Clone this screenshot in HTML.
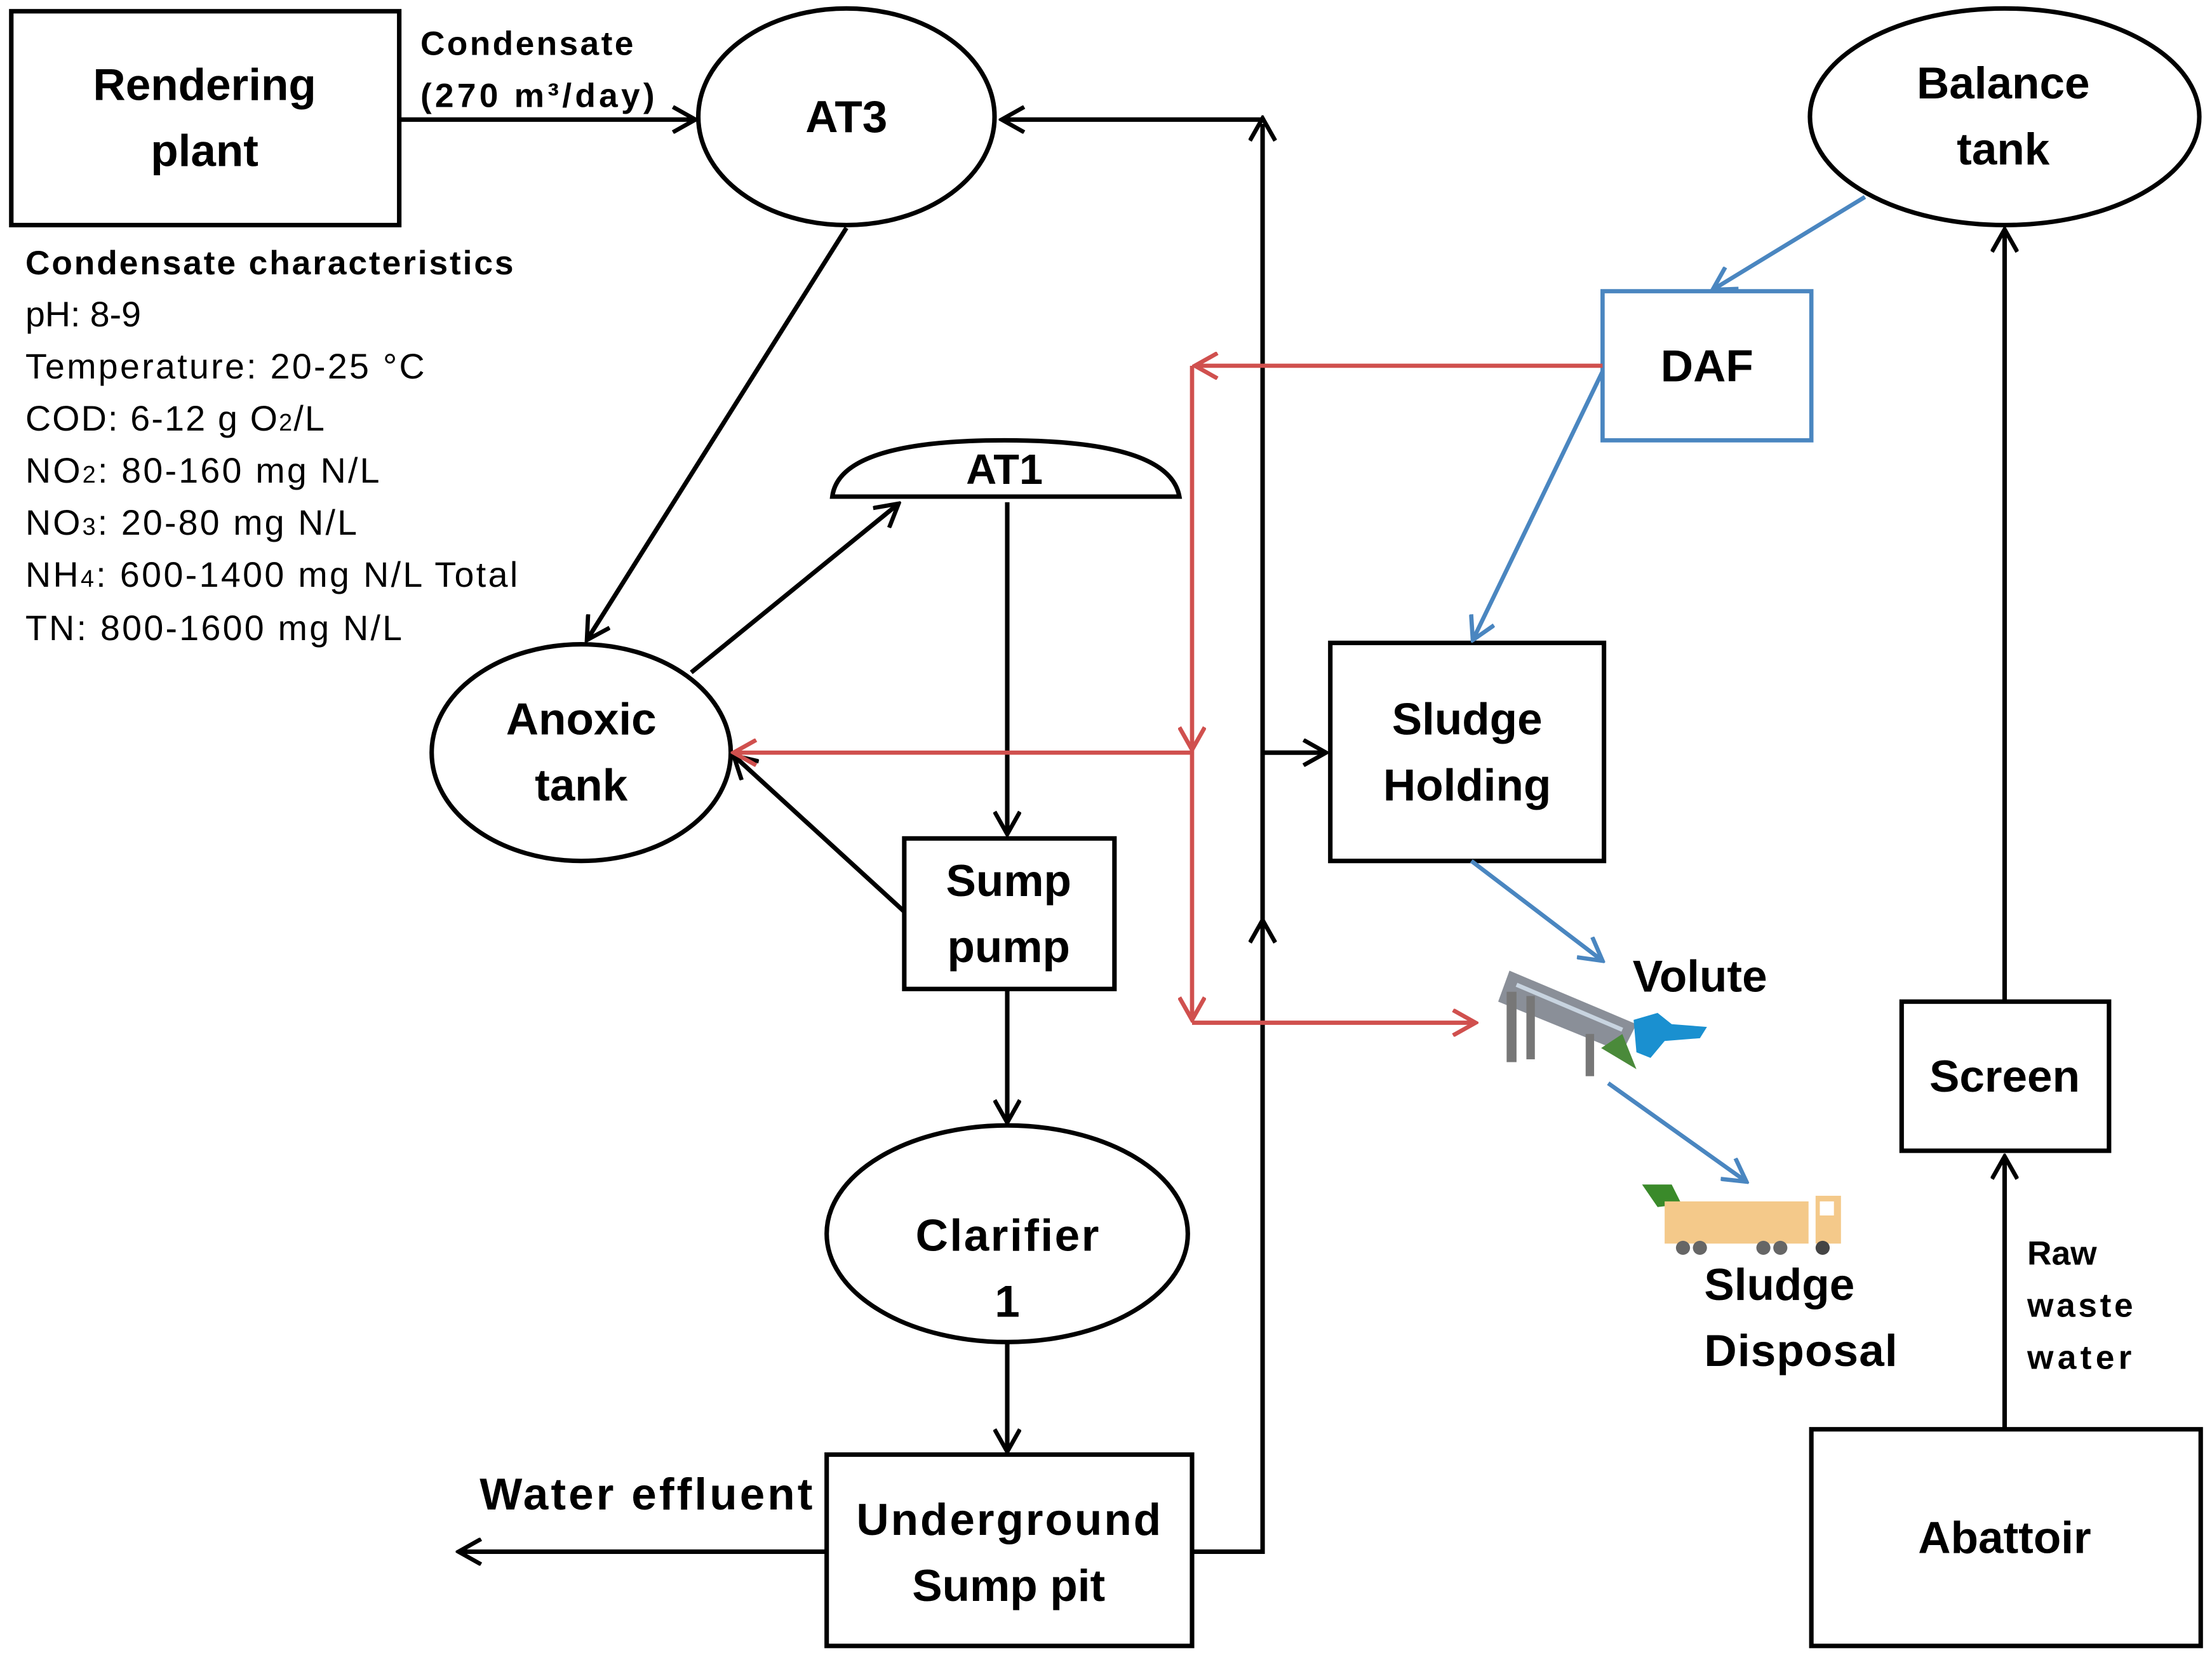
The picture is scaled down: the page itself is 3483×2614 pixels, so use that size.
<!DOCTYPE html>
<html><head><meta charset="utf-8"><style>
html,body{margin:0;padding:0;background:#fff;}
svg{display:block;}
text{font-family:"Liberation Sans","DejaVu Sans",sans-serif;}
</style></head><body>
<svg width="3483" height="2614" viewBox="0 0 1568 1180" preserveAspectRatio="none" xmlns="http://www.w3.org/2000/svg">
<defs>
<marker id="kb" markerWidth="20" markerHeight="20" refX="18" refY="10" orient="auto" markerUnits="userSpaceOnUse" viewBox="0 0 20 20"><path d="M2,1 L18,10 L2,19" fill="none" stroke="#000" stroke-width="3"/></marker>
<marker id="r" markerWidth="20" markerHeight="20" refX="18" refY="10" orient="auto" markerUnits="userSpaceOnUse" viewBox="0 0 20 20"><path d="M2,1 L18,10 L2,19" fill="none" stroke="#d0504e" stroke-width="3"/></marker>
<marker id="b" markerWidth="20" markerHeight="20" refX="18" refY="10" orient="auto" markerUnits="userSpaceOnUse" viewBox="0 0 20 20"><path d="M2,1 L18,10 L2,19" fill="none" stroke="#4a86c0" stroke-width="3"/></marker>
</defs>
<g fill="none" stroke="#000" stroke-width="3.2">
<rect x="8" y="8" width="275" height="152"/>
<ellipse cx="600" cy="83" rx="105" ry="77"/>
<ellipse cx="412" cy="535" rx="106" ry="77"/>
<path d="M590,353 Q595,313 712,313 Q829,313 836,353 Z"/>
<rect x="641" y="596" width="149" height="107"/>
<ellipse cx="714" cy="877" rx="128" ry="77"/>
<rect x="586" y="1034" width="259" height="136"/>
<ellipse cx="1421" cy="83" rx="138" ry="77"/>
<rect x="943" y="457" width="194" height="155"/>
<rect x="1348" y="712" width="147" height="106"/>
<rect x="1284" y="1016" width="276" height="154"/>
</g>
<rect x="1136" y="207" width="148" height="106" fill="none" stroke="#4a86c0" stroke-width="3"/>
<g stroke="#000" stroke-width="3.2" fill="none">
<line x1="283" y1="85" x2="493" y2="85" marker-end="url(#kb)"/>
<path d="M845,1103 L895,1103 L895,88"/>
<line x1="895" y1="86" x2="895" y2="84" marker-end="url(#kb)"/>
<line x1="895" y1="660" x2="895" y2="654" marker-end="url(#kb)"/>
<line x1="895" y1="85" x2="710" y2="85" marker-end="url(#kb)"/>
<line x1="895" y1="535" x2="940" y2="535" marker-end="url(#kb)"/>
<line x1="600" y1="162" x2="416" y2="455" marker-end="url(#kb)"/>
<line x1="490" y1="478" x2="637" y2="358" marker-end="url(#kb)"/>
<line x1="714" y1="357" x2="714" y2="593" marker-end="url(#kb)"/>
<line x1="641" y1="648" x2="520" y2="537" marker-end="url(#kb)"/>
<line x1="714" y1="703" x2="714" y2="798" marker-end="url(#kb)"/>
<line x1="714" y1="955" x2="714" y2="1032" marker-end="url(#kb)"/>
<line x1="586" y1="1103" x2="325" y2="1103" marker-end="url(#kb)"/>
<line x1="1421" y1="1016" x2="1421" y2="822" marker-end="url(#kb)"/>
<line x1="1421" y1="712" x2="1421" y2="163" marker-end="url(#kb)"/>
</g>
<g stroke="#d0504e" stroke-width="3" fill="none">
<line x1="1136" y1="260" x2="847" y2="260" marker-end="url(#r)"/>
<line x1="845" y1="260" x2="845" y2="533" marker-end="url(#r)"/>
<line x1="845" y1="533" x2="845" y2="725" marker-end="url(#r)"/>
<line x1="845" y1="535" x2="520" y2="535" marker-end="url(#r)"/>
<line x1="845" y1="727" x2="1046" y2="727" marker-end="url(#r)"/>
</g>
<g stroke="#4a86c0" stroke-width="3" fill="none">
<line x1="1322" y1="140" x2="1214" y2="206" marker-end="url(#b)"/>
<line x1="1136" y1="264" x2="1044" y2="455" marker-end="url(#b)"/>
<line x1="1043" y1="612" x2="1136" y2="683" marker-end="url(#b)"/>
<line x1="1140" y1="770" x2="1238" y2="840" marker-end="url(#b)"/>
</g>
<g>
<path d="M1070,690 L1160,728 L1150,748 L1062,712 Z" fill="#8a8f98"/>
<path d="M1075,700 L1150,732" stroke="#c8d4e0" stroke-width="3"/>
<rect x="1068" y="705" width="7" height="50" fill="#777"/>
<rect x="1082" y="708" width="6" height="45" fill="#777"/>
<rect x="1124" y="735" width="6" height="30" fill="#777"/>
<path d="M1135,745 L1160,760 L1150,735 Z" fill="#4a8a3a"/>
<path d="M1158,725 L1175,720 L1185,728 L1210,730 L1205,738 L1180,740 L1170,752 L1160,748 Z" fill="#1a90d0"/>
</g>
<g>
<path d="M1164,842 L1185,842 L1192,856 L1175,858 Z" fill="#3a8a2a"/>
<rect x="1180" y="854" width="102" height="30" fill="#f4c98a"/>
<rect x="1287" y="850" width="18" height="34" fill="#f4c98a"/>
<rect x="1290" y="854" width="10" height="10" fill="#fff"/>
<circle cx="1193" cy="887" r="5" fill="#666"/><circle cx="1205" cy="887" r="5" fill="#666"/>
<circle cx="1250" cy="887" r="5" fill="#666"/><circle cx="1262" cy="887" r="5" fill="#666"/>
<circle cx="1292" cy="887" r="5" fill="#444"/>
</g>
<g font-weight="bold" font-size="32" text-anchor="middle" fill="#000">
<text x="145" y="71">Rendering</text><text x="145" y="118">plant</text>
<text x="600" y="94">AT3</text>
<text x="712" y="344" font-size="30">AT1</text>
<text x="412" y="522">Anoxic</text><text x="412" y="569">tank</text>
<text x="715" y="637">Sump</text><text x="715" y="684">pump</text>
<text x="714" y="889" textLength="130">Clarifier</text><text x="714" y="936">1</text>
<text x="715" y="1091" textLength="216">Underground</text><text x="715" y="1138">Sump pit</text>
<text x="1420" y="70">Balance</text><text x="1420" y="117">tank</text>
<text x="1210" y="271">DAF</text>
<text x="1040" y="522">Sludge</text><text x="1040" y="569">Holding</text>
<text x="1205" y="705">Volute</text>
<text x="1421" y="776">Screen</text>
<text x="1421" y="1104">Abattoir</text>
<text x="458" y="1073" textLength="236">Water effluent</text>
</g>
<g font-weight="bold" font-size="32" fill="#000">
<text x="1208" y="924">Sludge</text><text x="1208" y="971" textLength="137">Disposal</text>
</g>
<g font-weight="bold" font-size="24" fill="#000">
<text x="298" y="39" textLength="151">Condensate</text>
<text x="298" y="76" textLength="166">(270 m³/day)</text>
<text x="1437" y="899">Raw</text><text x="1437" y="936" textLength="75">waste</text><text x="1437" y="973" textLength="74">water</text>
<text x="18" y="195" textLength="346">Condensate characteristics</text>
</g>
<g font-size="25" fill="#000">
<text x="18" y="232">pH: 8-9</text>
<text x="18" y="269" textLength="283">Temperature: 20-25 °C</text>
<text x="18" y="306" textLength="212">COD: 6-12 g O<tspan font-size="17">2</tspan>/L</text>
<text x="18" y="343" textLength="251">NO<tspan font-size="17">2</tspan>: 80-160 mg N/L</text>
<text x="18" y="380" textLength="235">NO<tspan font-size="17">3</tspan>: 20-80 mg N/L</text>
<text x="18" y="417" textLength="349">NH<tspan font-size="17">4</tspan>: 600-1400 mg N/L Total</text>
<text x="18" y="455" textLength="267">TN: 800-1600 mg N/L</text>
</g>
</svg>
</body></html>
